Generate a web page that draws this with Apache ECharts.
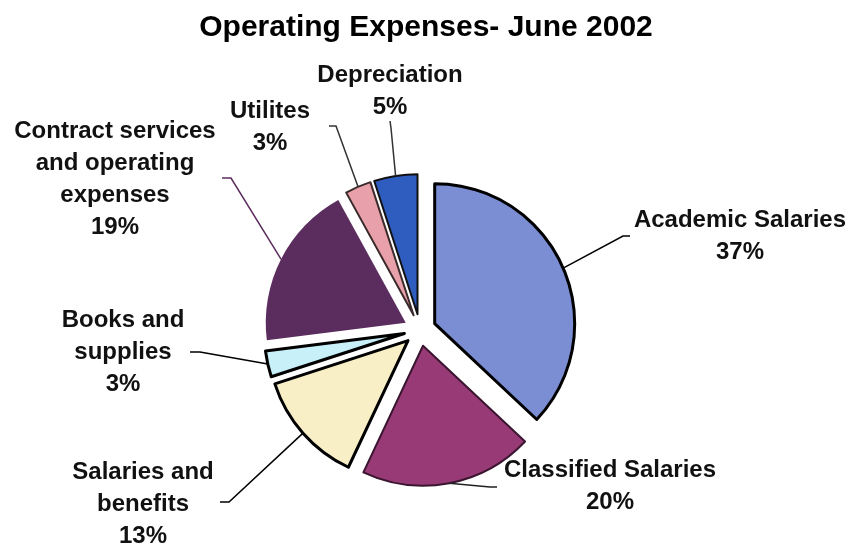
<!DOCTYPE html>
<html><head><meta charset="utf-8">
<script src="https://cdn.jsdelivr.net/npm/echarts@6/dist/echarts.min.js"></script>
<style>html,body{margin:0;padding:0;background:#fff}#c{width:852px;height:550px}</style>
</head><body><div id="c"></div>
<script>
// ---- data ----
const categories = ['Academic Salaries', 'Classified Salaries', 'Salaries and\nbenefits', 'Books and\nsupplies', 'Contract services\nand operating\nexpenses', 'Utilites', 'Depreciation'];
const values = [37, 20, 13, 3, 19, 3, 5];

// ---- styles / layout ----
const sliceColors = ['#7b8dd3', '#983a76', '#f8efc6', '#c8f0f8', '#5b2d5e', '#e8a0aa', '#2f5cbf'];
const borderColors = ['#000', '#3a1530', '#000', '#000', '#5b2d5e', '#3a2a2a', '#111'];
const borderWidths = [3, 2, 3, 3, 0, 2, 2];
const lineColors = ['#000', '#222', '#000', '#000', '#5b2d5e', '#333', '#333'];
const labelAnchors = [[740, 236], [610, 486], [143, 504], [123, 352], [115, 179], [270, 127], [390, 91]];
const lineBends = [[623, 236], [490, 487], [229, 502], [200, 352], [231, 178], [336, 126], [391, 128]];
const lineEnds = [[630, 236], [497, 487], [220, 502], [190, 352], [222, 178], [329, 126], [390, 121]];
const CENTER = [420, 330];
const RADIUS = 140;
const OFFSET = 16;
const FONT = '"Liberation Sans", Arial, sans-serif';

const chart = echarts.init(document.getElementById('c'), null, {renderer: 'canvas'});
chart.setOption({
  animation: false,
  backgroundColor: '#fff',
  title: {
    text: 'Operating Expenses- June 2002',
    left: 'center',
    top: 8,
    textStyle: {fontFamily: FONT, fontWeight: 'bold', fontSize: 30, color: '#000'}
  },
  series: [{
    // slices (exploded)
    type: 'pie',
    center: CENTER,
    radius: RADIUS,
    startAngle: 90,
    clockwise: true,
    selectedMode: 'multiple',
    selectedOffset: OFFSET,
    silent: true,
    emphasis: {disabled: true},
    label: {show: false},
    labelLine: {show: false},
    data: categories.map((name, i) => ({
      name: name,
      value: values[i],
      selected: true,
      itemStyle: {color: sliceColors[i], borderColor: borderColors[i], borderWidth: borderWidths[i]},
      select: {itemStyle: {color: sliceColors[i], borderColor: borderColors[i], borderWidth: borderWidths[i]}}
    }))
  }, {
    // labels and leader lines
    type: 'pie',
    center: CENTER,
    radius: RADIUS,
    startAngle: 90,
    clockwise: true,
    silent: true,
    z: 3,
    avoidLabelOverlap: false,
    emphasis: {disabled: true},
    itemStyle: {color: 'rgba(0,0,0,0)', borderWidth: 0},
    label: {
      show: true,
      formatter: '{b}\n{c}%',
      fontFamily: FONT,
      fontWeight: 'bold',
      fontSize: 24,
      lineHeight: 32,
      color: '#111',
      align: 'center'
    },
    labelLine: {show: true, length: 20, length2: 10, lineStyle: {width: 1.5}},
    labelLayout: function (p) {
      const i = p.dataIndex;
      let start = lineBends[i];
      if (p.labelLinePoints && p.labelLinePoints[0]) {
        const s = p.labelLinePoints[0];
        const dx = s[0] - CENTER[0], dy = s[1] - CENTER[1];
        const d = Math.sqrt(dx * dx + dy * dy) || 1;
        start = [s[0] + dx / d * OFFSET, s[1] + dy / d * OFFSET];
      }
      return {
        x: labelAnchors[i][0], y: labelAnchors[i][1],
        align: 'center', verticalAlign: 'middle',
        labelLinePoints: [start, lineBends[i], lineEnds[i]]
      };
    },
    data: categories.map((name, i) => ({
      name: name,
      value: values[i],
      labelLine: {lineStyle: {color: lineColors[i], width: 1.5}}
    }))
  }]
});
</script>
</body></html>
